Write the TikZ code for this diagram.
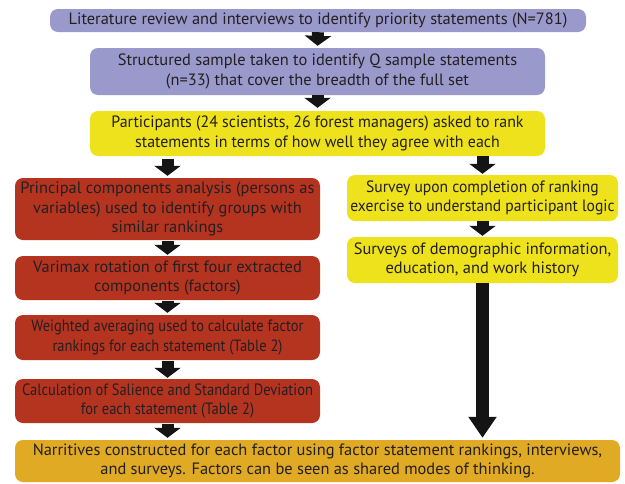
\documentclass[tikz,border=0pt]{standalone}
\usepackage{fontspec}
\setmainfont{PT Sans}
\newfontfamily\condA[FakeStretch=0.885]{PT Sans}
\newfontfamily\condB[FakeStretch=0.95]{PT Sans}
\newfontfamily\condC[FakeStretch=0.97]{PT Sans}
\usetikzlibrary{arrows.meta}
\definecolor{cpurple}{RGB}{153,153,204}
\definecolor{cyellow}{RGB}{238,226,28}
\definecolor{cred}{RGB}{181,52,32}
\definecolor{cgold}{RGB}{224,170,36}
\definecolor{ctext}{RGB}{35,31,32}
\tikzset{
  box/.style={rounded corners=8pt, inner sep=0pt, align=center, text=ctext,
    font=\fontsize{16.4}{19.5}\selectfont},
  condensed/.style={font=#1\fontsize{16.4}{19.5}\selectfont},
  blockarrow/.style={draw=black!92, line width=12pt,
    -{Triangle[width=26pt,length=10pt]}},
  bigarrow/.style={draw=black!92, line width=13pt,
    -{Triangle[width=27pt,length=21pt]}}
}
\begin{document}
\begin{tikzpicture}[x=1pt,y=-1pt]
\useasboundingbox (0,0) rectangle (625,483);
\node[box, fill=cpurple, minimum width=536pt, minimum height=23pt] (b1) at (318,20.5)
  {Literature review and interviews to identify priority statements (N=781)};
\node[box, fill=cpurple, minimum width=455pt, minimum height=47pt] (b2) at (317.5,71.5)
  {Structured sample taken to identify Q sample statements\\(n=33) that cover the breadth of the full set};
\node[box, condensed=\condC, fill=cyellow, minimum width=455pt, minimum height=45pt] (b3) at (317.5,133.5)
  {Participants (24 scientists, 26 forest managers) asked to rank\\statements in terms of how well they agree with each};
\node[box, fill=cred, minimum width=305pt, minimum height=62pt] (l1) at (167.5,209)
  {Principal components analysis (persons as\\variables) used to identify groups with\\similar rankings};
\node[box, fill=cred, minimum width=305pt, minimum height=44pt] (l2) at (167.5,278)
  {Varimax rotation of first four extracted\\components (factors)};
\node[box, condensed=\condA, fill=cred, minimum width=305pt, minimum height=45pt] (l3) at (167.5,337.5)
  {Weighted averaging used to calculate factor\\rankings for each statement (Table 2)};
\node[box, condensed=\condA, fill=cred, minimum width=305pt, minimum height=44pt] (l4) at (167.5,401)
  {Calculation of Salience and Standard Deviation\\for each statement (Table 2)};
\node[box, condensed=\condB, fill=cyellow, minimum width=271pt, minimum height=46pt] (r1) at (482.5,198)
  {Survey upon completion of ranking\\exercise to understand participant logic};
\node[box, fill=cyellow, minimum width=271pt, minimum height=46pt] (r2) at (482.5,260)
  {Surveys of demographic information,\\education, and work history};
\node[box, fill=cgold, minimum width=605pt, minimum height=42pt] (b4) at (317.5,461)
  {Narritives constructed for each factor using factor statement rankings, interviews,\\and surveys. Factors can be seen as shared modes of thinking.};
\draw[blockarrow, shorten <=0pt, shorten >=2pt] (b1.south) -- (b2.north);
\draw[blockarrow, shorten <=0pt, shorten >=3pt] (b2.south) -- (b3.north);
\draw[blockarrow, shorten <=3pt, shorten >=2pt] (b3.south -| l1.north) -- (l1.north);
\draw[blockarrow, shorten <=0pt, shorten >=1pt] (b3.south -| r1.north) -- (r1.north);
\draw[blockarrow, shorten <=1pt, shorten >=1pt] (l1) -- (l2);
\draw[blockarrow, shorten <=1pt, shorten >=2pt] (l2) -- (l3);
\draw[blockarrow, shorten <=1pt, shorten >=1pt] (l3) -- (l4);
\draw[blockarrow, shorten <=1pt, shorten >=2pt] (l4.south) -- (b4.north -| l4.south);
\draw[blockarrow, shorten <=0pt, shorten >=1pt] (r1) -- (r2);
\draw[bigarrow, shorten >=2pt] (r2.south) -- (b4.north -| r2.south);
\end{tikzpicture}
\end{document}
